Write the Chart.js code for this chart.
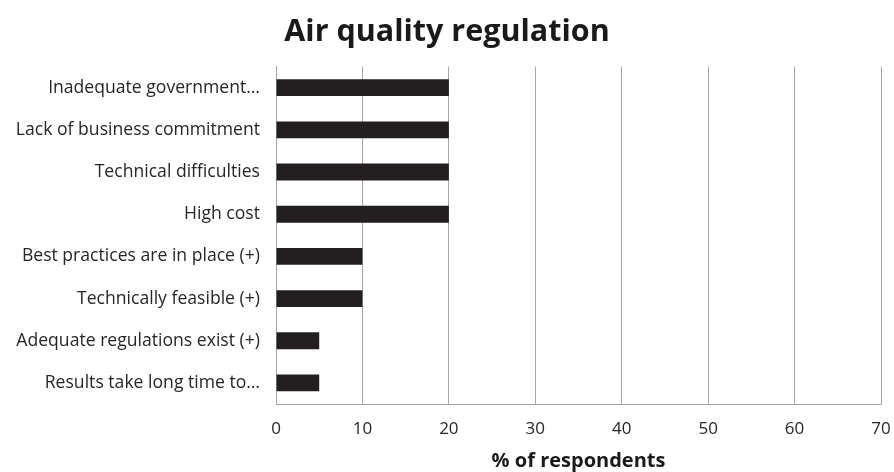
<!DOCTYPE html>
<html>
<head>
<meta charset="utf-8">
<script src="https://cdn.jsdelivr.net/npm/chart.js@4/dist/chart.umd.min.js"></script>
<style>
  html, body { margin: 0; padding: 0; background: #ffffff; }
  #wrap { width: 894px; height: 472px; }
</style>
</head>
<body>
<div id="wrap"><canvas id="c" width="894" height="472"></canvas></div>
<script>
// Survey responses: barriers and enablers for air quality regulation
const categories = [
  "Inadequate government…",
  "Lack of business commitment",
  "Technical difficulties",
  "High cost",
  "Best practices are in place (+)",
  "Technically feasible (+)",
  "Adequate regulations exist (+)",
  "Results take long time to…"
];
const respondentsPct = [20, 20, 20, 20, 10, 10, 5, 5];
const xTicks = [0, 10, 20, 30, 40, 50, 60, 70];

const FONT = "'Open Sans', 'Liberation Sans', sans-serif";
const TEXT = "#262626";
const GRID = "#a6a6a6";

new Chart(document.getElementById("c"), {
  type: "bar",
  data: {
    labels: categories,
    datasets: [{
      data: respondentsPct,
      backgroundColor: "#231f20",
      borderWidth: 0,
      barPercentage: 0.4,
      categoryPercentage: 1.0
    }]
  },
  options: {
    indexAxis: "y",
    responsive: false,
    animation: false,
    devicePixelRatio: 1,
    layout: { padding: { left: 0, right: 0, top: 0, bottom: 0 } },
    plugins: {
      legend: { display: false },
      tooltip: { enabled: false },
      title: {
        display: true,
        text: "Air quality regulation",
        color: "#1a1a1a",
        font: { family: FONT, size: 30.5, weight: "bold", lineHeight: 1.2 },
        padding: { top: 14, bottom: 16 }
      }
    },
    scales: {
      x: {
        min: 0,
        max: 70,
        afterBuildTicks: (scale) => { scale.ticks = xTicks.map(v => ({ value: v })); },
        afterFit: (scale) => { scale.height = 68; scale.paddingRight = 13; },
        grid: { color: GRID, lineWidth: 1, drawTicks: false },
        border: { display: true, color: GRID, width: 1 },
        ticks: { color: TEXT, font: { family: FONT, size: 17, lineHeight: 1.2 }, padding: 15, maxRotation: 0 },
        title: {
          display: true,
          text: "% of respondents",
          color: "#1a1a1a",
          font: { family: FONT, size: 20, weight: "bold", lineHeight: 1.2 },
          padding: { top: 8, bottom: -1 }
        }
      },
      y: {
        grid: { display: false, drawTicks: false },
        border: { display: true, color: GRID, width: 1 },
        ticks: { color: TEXT, font: { family: FONT, size: 17.6 }, padding: 16 },
        afterFit: (scale) => { scale.width = 276; }
      }
    }
  }
});
</script>
</body>
</html>
